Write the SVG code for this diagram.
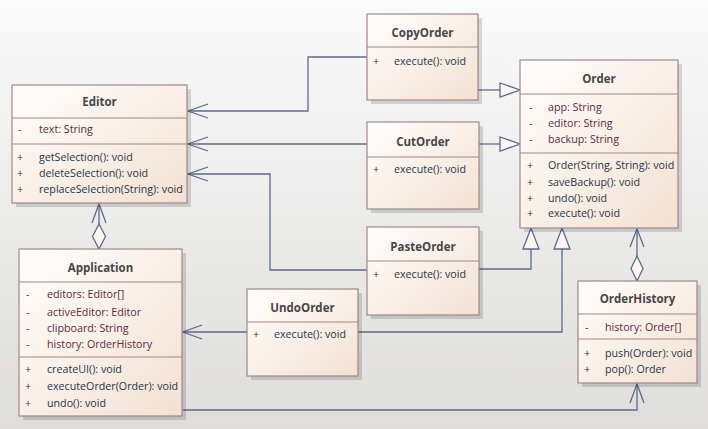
<svg xmlns="http://www.w3.org/2000/svg" width="708" height="429" viewBox="0 0 708 429">
<defs>
<linearGradient id="bg" x1="0" y1="0" x2="0" y2="1"><stop offset="0" stop-color="#fafafa"/><stop offset="1" stop-color="#dedddb"/></linearGradient>
<linearGradient id="box" x1="0" y1="0" x2="1" y2="1"><stop offset="0" stop-color="#fffefd"/><stop offset="1" stop-color="#f3e1d2"/></linearGradient>
<style>
.sh{fill:#000;opacity:.14}
.bx{fill:url(#box);stroke:#a08888;stroke-width:1.2}
.dv{stroke:#a08888;stroke-width:1.2}
.t{font-family:"Open Sans","Noto Sans",sans-serif;font-size:11.5px;font-weight:bold;fill:#464646;text-anchor:middle}
.a{font-family:"Open Sans","Noto Sans",sans-serif;font-size:10.7px;fill:#5b2a3f}
.m{font-family:"Open Sans","Noto Sans",sans-serif;font-size:10.7px;fill:#263848}
.c{fill:none;stroke:#5f6b8c;stroke-width:1.3}
.tri{fill:#fbf6f2;stroke:#5f6b8c;stroke-width:1.3}
</style>
</defs>
<rect width="708" height="429" fill="url(#bg)"/>

<g id="connectors">
<polyline class="c" points="367,57 308,57 308,111 188,111"/>
<polyline class="c" points="208,104 188,111 208,118"/>
<polyline class="c" points="367,144 188,144"/>
<polyline class="c" points="208,137 188,144 208,151"/>
<polyline class="c" points="367,270 270,270 270,174 188,174"/>
<polyline class="c" points="208,167 188,174 208,181"/>
<line class="c" x1="478" y1="90" x2="500" y2="90"/>
<polygon class="tri" points="500,83 520,90 500,97"/>
<line class="c" x1="479" y1="144" x2="500" y2="144"/>
<polygon class="tri" points="500,137 520,144 500,151"/>
<polyline class="c" points="479,269 531,269 531,249"/>
<polygon class="tri" points="523,249 531,228 539,249"/>
<polyline class="c" points="358,332 562,332 562,249"/>
<polygon class="tri" points="554,249 562,228 570,249"/>
<line class="c" x1="247" y1="332" x2="183" y2="332"/>
<polyline class="c" points="202,325 183,332 202,339"/>
<polyline class="c" points="183,410 637,410 637,384"/>
<polyline class="c" points="630,403 637,384 644,403"/>
<line class="c" x1="99" y1="204" x2="99" y2="224"/>
<polyline class="c" points="92,223 99,204 106,223"/>
<polygon class="tri" points="99,224 105.5,236.5 99,249 92.5,236.5"/>
<line class="c" x1="637" y1="229" x2="637" y2="256"/>
<polyline class="c" points="630,247 637,229 644,247"/>
<polygon class="tri" points="637,256 643,268.5 637,281 631,268.5"/>
</g>

<g id="Editor">
<rect class="sh" x="16" y="89" width="175" height="118"/>
<rect class="bx" x="12" y="85" width="175" height="118"/>
<line class="dv" x1="12" y1="118" x2="187" y2="118"/>
<line class="dv" x1="12" y1="144" x2="187" y2="144"/>
<text class="t" x="99.5" y="106">Editor</text>
<text class="a" x="18" y="133">-</text><text class="a" x="39" y="133">text: String</text>
<text class="m" x="17" y="161">+</text><text class="m" x="39" y="161">getSelection(): void</text>
<text class="m" x="17" y="177">+</text><text class="m" x="39" y="177">deleteSelection(): void</text>
<text class="m" x="17" y="193">+</text><text class="m" x="39" y="193">replaceSelection(String): void</text>
</g>

<g id="CopyOrder">
<rect class="sh" x="371" y="18" width="111" height="86"/>
<rect class="bx" x="367" y="14" width="111" height="86"/>
<line class="dv" x1="367" y1="47" x2="478" y2="47"/>
<text class="t" x="422.5" y="37">CopyOrder</text>
<text class="m" x="373" y="65">+</text><text class="m" x="394" y="65">execute(): void</text>
</g>

<g id="CutOrder">
<rect class="sh" x="371" y="126" width="112" height="87"/>
<rect class="bx" x="367" y="122" width="112" height="87"/>
<line class="dv" x1="367" y1="157" x2="479" y2="157"/>
<text class="t" x="423" y="146">CutOrder</text>
<text class="m" x="373" y="173">+</text><text class="m" x="394" y="173">execute(): void</text>
</g>

<g id="PasteOrder">
<rect class="sh" x="371" y="231" width="112" height="88"/>
<rect class="bx" x="367" y="227" width="112" height="88"/>
<line class="dv" x1="367" y1="261" x2="479" y2="261"/>
<text class="t" x="423" y="251">PasteOrder</text>
<text class="m" x="373" y="278">+</text><text class="m" x="394" y="278">execute(): void</text>
</g>

<g id="Order">
<rect class="sh" x="524" y="64" width="158" height="168"/>
<rect class="bx" x="520" y="60" width="158" height="168"/>
<line class="dv" x1="520" y1="94" x2="678" y2="94"/>
<line class="dv" x1="520" y1="153" x2="678" y2="153"/>
<text class="t" x="599" y="83">Order</text>
<text class="a" x="529" y="111">-</text><text class="a" x="548" y="111">app: String</text>
<text class="a" x="529" y="127">-</text><text class="a" x="548" y="127">editor: String</text>
<text class="a" x="529" y="143">-</text><text class="a" x="548" y="143">backup: String</text>
<text class="m" x="527" y="169">+</text><text class="m" x="548" y="169">Order(String, String): void</text>
<text class="m" x="527" y="186">+</text><text class="m" x="548" y="186">saveBackup(): void</text>
<text class="m" x="527" y="202">+</text><text class="m" x="548" y="202">undo(): void</text>
<text class="m" x="527" y="217">+</text><text class="m" x="548" y="217">execute(): void</text>
</g>

<g id="Application">
<rect class="sh" x="23" y="253" width="163" height="167"/>
<rect class="bx" x="19" y="249" width="163" height="167"/>
<line class="dv" x1="19" y1="282" x2="182" y2="282"/>
<line class="dv" x1="19" y1="357" x2="182" y2="357"/>
<text class="t" x="100.5" y="272">Application</text>
<text class="a" x="26" y="298">-</text><text class="a" x="47" y="298">editors: Editor[]</text>
<text class="a" x="26" y="316">-</text><text class="a" x="47" y="316">activeEditor: Editor</text>
<text class="a" x="26" y="332">-</text><text class="a" x="47" y="332">clipboard: String</text>
<text class="a" x="26" y="348">-</text><text class="a" x="47" y="348">history: OrderHistory</text>
<text class="m" x="25" y="373">+</text><text class="m" x="47" y="373">createUI(): void</text>
<text class="m" x="25" y="390">+</text><text class="m" x="47" y="390">executeOrder(Order): void</text>
<text class="m" x="25" y="407">+</text><text class="m" x="47" y="407">undo(): void</text>
</g>

<g id="UndoOrder">
<rect class="sh" x="251" y="293" width="111" height="87"/>
<rect class="bx" x="247" y="289" width="111" height="87"/>
<line class="dv" x1="247" y1="322" x2="358" y2="322"/>
<text class="t" x="302.5" y="312">UndoOrder</text>
<text class="m" x="253" y="338">+</text><text class="m" x="274" y="338">execute(): void</text>
</g>

<g id="OrderHistory">
<rect class="sh" x="582" y="285" width="119" height="102"/>
<rect class="bx" x="578" y="281" width="119" height="102"/>
<line class="dv" x1="578" y1="314" x2="697" y2="314"/>
<line class="dv" x1="578" y1="339" x2="697" y2="339"/>
<text class="t" x="637.5" y="303">OrderHistory</text>
<text class="a" x="585" y="331">-</text><text class="a" x="605" y="331">history: Order[]</text>
<text class="m" x="584" y="357">+</text><text class="m" x="605" y="357">push(Order): void</text>
<text class="m" x="584" y="373">+</text><text class="m" x="605" y="373">pop(): Order</text>
</g>
</svg>
